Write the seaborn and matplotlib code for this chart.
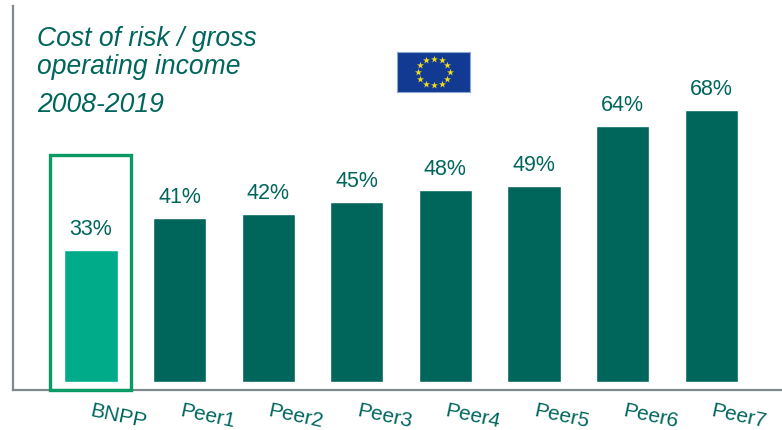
import numpy as np
import pandas as pd
import matplotlib
matplotlib.use("Agg")
import matplotlib.pyplot as plt
from matplotlib.patches import Rectangle
import seaborn as sns

banks = ["BNPP", "Peer1", "Peer2", "Peer3", "Peer4", "Peer5", "Peer6", "Peer7"]
ratios = [33, 41, 42, 45, 48, 49, 64, 68]
bar_colors = ["#00AB8A"] + ["#00665C"] * 7
title_lines = ["Cost of risk / gross", "operating income"]
period = "2008-2019"

TEXT = "#00665C"
W, H = 782, 431

sns.set_theme(style="white")
plt.rcParams["font.family"] = ["Liberation Sans", "DejaVu Sans"]

fig = plt.figure(figsize=(W / 100, H / 100), dpi=100, facecolor="white")
ax = fig.add_axes([13 / W, 1 - 390.5 / H, (W - 13) / W, (390.5 - 7) / H])

df = pd.DataFrame({"bank": banks, "ratio": ratios})
sns.barplot(data=df, x="bank", y="ratio", hue="bank", palette=bar_colors,
            order=banks, hue_order=banks, width=0.6, legend=False, ax=ax,
            saturation=1)

ax.set_xlim(-0.88, 7.80)
ax.set_ylim(-1.75, 94.1)
ax.set_xlabel("")
ax.set_ylabel("")
ax.set_yticks([])
ax.set_xticks([])
for side in ("top", "right"):
    ax.spines[side].set_visible(False)
for side in ("left", "bottom"):
    ax.spines[side].set_color("#7F8A8E")
    ax.spines[side].set_linewidth(1.6)

# value labels above the bars, category labels slanted under the axis
for i, (name, val) in enumerate(zip(banks, ratios)):
    ax.annotate(f"{val}%", (i, val), xytext=(0, 8.3), textcoords="offset points",
                ha="center", va="bottom", color=TEXT, fontsize=15.5)
    ax.annotate(name, (i, 0), xycoords=("data", "axes fraction"),
                xytext=(20, -8), textcoords="offset points",
                ha="center", va="top", rotation=-12, rotation_mode="default",
                color=TEXT, fontsize=15, annotation_clip=False)

# highlight frame around the BNPP bar
frame = Rectangle((-0.457, 0), 0.914, 0.6105, transform=ax.get_xaxis_transform(),
                  fill=False, edgecolor="#0A9A63", linewidth=2.4, clip_on=False, zorder=5)
ax.add_patch(frame)

fig.text(37 / W, 1 - 39 / H, title_lines[0], style="italic", color=TEXT,
         fontsize=19.1, ha="left", va="center")
fig.text(37 / W, 1 - 66.5 / H, title_lines[1], style="italic", color=TEXT,
         fontsize=19.1, ha="left", va="center")
fig.text(37 / W, 1 - 104.5 / H, period, style="italic", color=TEXT,
         fontsize=19.1, ha="left", va="center")

# European flag: a ring of twelve stars on blue
flag = fig.add_axes([397 / W, 1 - 93 / H, 73 / W, 40 / H], facecolor="#123A92")
flag.set_xlim(-73 / 2, 73 / 2)
flag.set_ylim(-20, 20)
flag.set_xticks([])
flag.set_yticks([])
for s in flag.spines.values():
    s.set_color("#8FA6CF")
    s.set_linewidth(0.8)
angles = np.deg2rad(np.arange(0, 360, 30))
flag.scatter(16 * np.cos(angles), 13.3 * np.sin(angles), marker="*", s=28,
             color="#F2DC1E", linewidths=0)

fig.savefig("out.png", dpi=100, facecolor="white")
